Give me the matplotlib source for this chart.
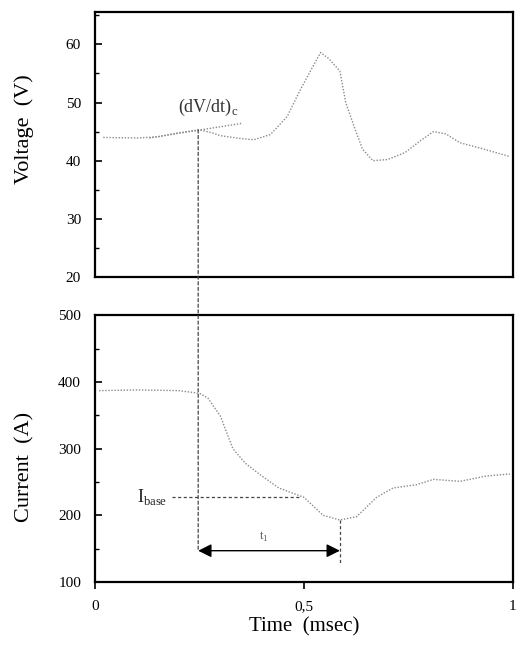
import matplotlib
matplotlib.use("Agg")
import matplotlib.pyplot as plt
from matplotlib.patches import ConnectionPatch, FancyArrowPatch
from matplotlib.ticker import MultipleLocator

plt.rcParams['font.family'] = ['Liberation Serif', 'DejaVu Serif']
plt.rcParams['mathtext.fontset'] = 'custom'
plt.rcParams['mathtext.rm'] = 'Liberation Serif'

# Voltage trace (time in msec, voltage in V)
t_v = [0.02, 0.10, 0.15, 0.20, 0.25, 0.28, 0.30, 0.35, 0.38, 0.42, 0.46, 0.49,
       0.52, 0.54, 0.56, 0.586, 0.60, 0.62, 0.64, 0.665, 0.70, 0.742, 0.78,
       0.81, 0.84, 0.873, 0.93, 0.993]
v = [44.0, 43.9, 44.1, 44.8, 45.3, 44.8, 44.3, 43.8, 43.6, 44.5, 47.6, 52.0,
     56.0, 58.6, 57.5, 55.4, 50.0, 45.9, 42.0, 40.0, 40.2, 41.4, 43.5,
     45.0, 44.6, 43.1, 42.0, 40.7]

# Current trace (time in msec, current in A)
t_i = [0.01, 0.10, 0.20, 0.25, 0.27, 0.30, 0.33, 0.36, 0.395, 0.44, 0.50, 0.546,
       0.586, 0.626, 0.674, 0.713, 0.77, 0.81, 0.873, 0.937, 0.993]
cur = [387, 388, 387, 383, 376, 349, 300, 278, 261, 241, 227, 200,
       193, 198, 227, 241, 246, 254, 251, 259, 262]

# Tangent (dV/dt)c
t_tan = [0.13, 0.35]
v_tan = [43.9, 46.4]

t_start = 0.247   # start of transient
t_min = 0.586     # current minimum
i_base = 228
i_arrow = 147
v_start = 45.3
i_min = 193

fig = plt.figure(figsize=(5.16, 6.46), dpi=100)
ax1 = fig.add_axes([0.184, 0.571, 0.81, 0.410])
ax2 = fig.add_axes([0.184, 0.099, 0.81, 0.413])

line_kw = dict(color='#8a8a8a', lw=1.0, ls=(0, (1, 1.2)))
dash_kw = dict(color='#444444', lw=0.9, ls=(0, (2.5, 2)))

ax1.plot(t_v, v, **line_kw)
ax1.plot(t_tan, v_tan, **line_kw)
ax1.set_xlim(0, 1)
ax1.set_ylim(20, 65.5)
ax1.set_yticks([20, 30, 40, 50, 60])
ax1.yaxis.set_minor_locator(MultipleLocator(5))
ax1.set_xticks([])
ax1.set_ylabel('Voltage  (V)', fontsize=16)
ax1.yaxis.set_label_coords(-0.145, 0.56)
ax1.text(0.199, 48.3, r'(dV/dt)$_\mathrm{c}$', fontsize=13, color='#333333')

ax2.plot(t_i, cur, **line_kw)
ax2.set_xlim(0, 1)
ax2.set_ylim(100, 500)
ax2.set_yticks([100, 200, 300, 400, 500])
ax2.yaxis.set_minor_locator(MultipleLocator(50))
ax2.set_xticks([0, 0.5, 1])
ax2.set_xticklabels(['0', '0,5', '1'])
ax2.set_xlabel('Time  (msec)', fontsize=15, labelpad=3)
ax2.set_ylabel('Current  (A)', fontsize=16)
ax2.yaxis.set_label_coords(-0.145, 0.43)

# I_base dashed line and label
ax2.plot([0.185, 0.49], [i_base, i_base], **dash_kw)
ax2.text(0.100, i_base, r'I$_\mathrm{base}$', fontsize=13, va='center', color='#222222')

# vertical dashed line at minimum
ax2.plot([t_min, t_min], [i_min, 125], **dash_kw)

# vertical dashed line from voltage curve to arrow level (across axes)
con = ConnectionPatch(xyA=(t_start, v_start), coordsA=ax1.transData,
                      xyB=(t_start, i_arrow), coordsB=ax2.transData,
                      **dash_kw)
fig.add_artist(con)

# double-headed arrow t1
arr = FancyArrowPatch((t_start, i_arrow), (t_min, i_arrow),
                      arrowstyle='<|-|>', mutation_scale=20, color='black', lw=1.0,
                      shrinkA=0, shrinkB=0)
ax2.add_patch(arr)
ax2.text(0.405, i_arrow + 10, r't$_\mathrm{1}$', fontsize=9, ha='center', va='bottom', color='#555555')

for ax in (ax1, ax2):
    for s in ax.spines.values():
        s.set_linewidth(1.6)
    ax.tick_params(axis='y', which='major', direction='in', length=5, width=1.2,
                   labelsize=11, pad=10)
    ax.tick_params(axis='y', which='minor', direction='in', length=3, width=1.0)
    ax.tick_params(axis='x', direction='out', length=5, width=1.2, labelsize=11, pad=8)

fig.savefig('out.png', dpi=100)
